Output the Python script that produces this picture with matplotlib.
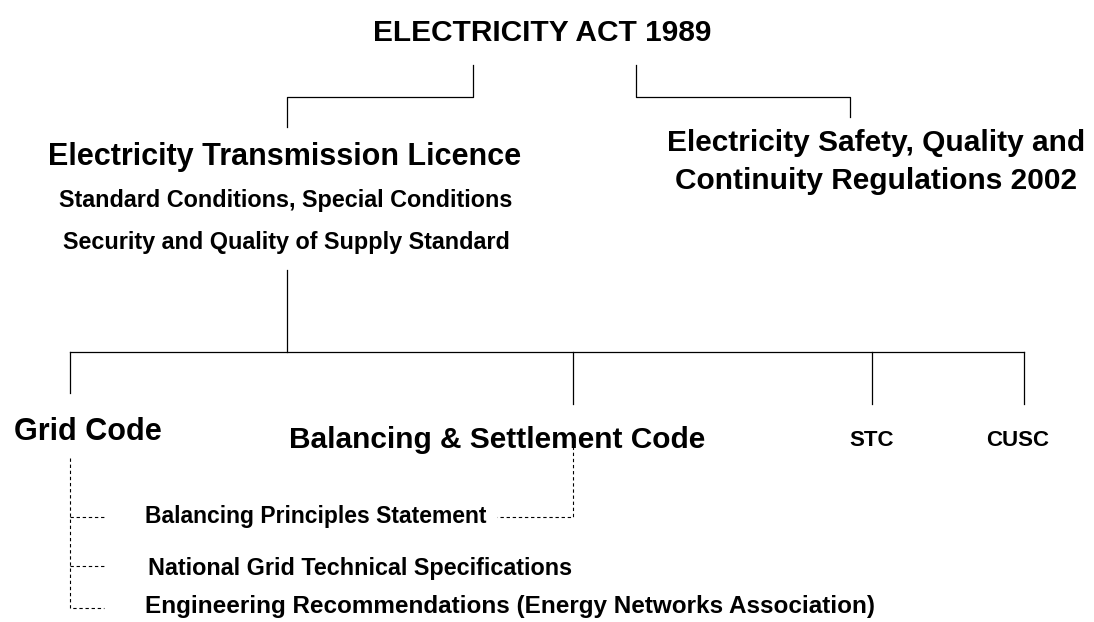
import matplotlib
matplotlib.use("Agg")
import matplotlib.pyplot as plt

plt.rcParams['font.family'] = ['Liberation Sans', 'DejaVu Sans']

# node labels: (text, x, y, size, ha)
labels = [
    ("ELECTRICITY ACT 1989", 542, 33, 21.5, "center"),
    ("Electricity Transmission Licence", 285, 157, 22, "center"),
    ("Standard Conditions, Special Conditions", 286, 200, 16.8, "center"),
    ("Security and Quality of Supply Standard", 286, 243, 16.8, "center"),
    ("Electricity Safety, Quality and", 876, 143, 21.5, "center"),
    ("Continuity Regulations 2002", 876, 181, 21.5, "center"),
    ("Grid Code", 88, 432, 22, "center"),
    ("Balancing & Settlement Code", 497, 440, 21.5, "center"),
    ("STC", 872, 440, 16, "center"),
    ("CUSC", 1018, 440, 16, "center"),
    ("Balancing Principles Statement", 145, 517, 16.5, "left"),
    ("National Grid Technical Specifications", 148, 569, 16.8, "left"),
    ("Engineering Recommendations (Energy Networks Association)", 145, 607, 17.5, "left"),
]

# solid connectors as polylines (x list, y list)
solid = [
    ([473, 473, 287, 287], [65, 97, 97, 127]),
    ([636, 636, 850, 850], [65, 97, 97, 117]),
    ([287, 287], [270, 352]),
    ([70, 1024], [352, 352]),
    ([70, 70], [352, 393]),
    ([573, 573], [352, 404]),
    ([872, 872], [352, 404]),
    ([1024, 1024], [352, 404]),
]

# dashed connectors
dashed = [
    ([70, 70, 104], [458, 608, 608]),
    ([70, 104], [517, 517]),
    ([70, 104], [566, 566]),
    ([573, 573, 497], [440, 517, 517]),
]

fig = plt.figure(figsize=(10.94, 6.22), dpi=100)
ax = fig.add_axes([0, 0, 1, 1])
ax.set_xlim(0, 1094)
ax.set_ylim(622, 0)
ax.axis('off')

for xs, ys in solid:
    ax.plot(xs, ys, color='black', lw=0.9)
for xs, ys in dashed:
    ax.plot(xs, ys, color='black', lw=0.8, dashes=(3, 2.5))

for text, x, y, size, ha in labels:
    ax.text(x, y, text, fontsize=size, fontweight='bold', ha=ha, va='center')

fig.savefig("out.png", dpi=100)
